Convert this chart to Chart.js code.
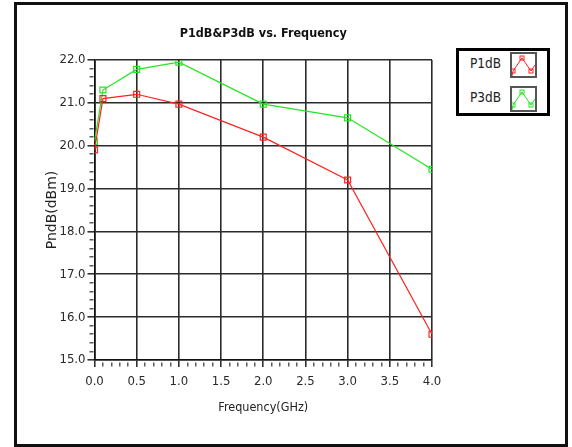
<!DOCTYPE html>
<html>
<head>
<meta charset="utf-8">
<script src="https://cdn.jsdelivr.net/npm/chart.js@4.4.1/dist/chart.umd.min.js"></script>
<style>
    html, body { margin: 0; padding: 0; background: #fff; }
    #frame {
        position: absolute; left: 14px; top: 2px; width: 554px; height: 445px;
        box-sizing: border-box; border: 3px solid #111;
    }
    #wrap { position: absolute; left: 0; top: 0; width: 572px; height: 447px; }
    #legend {
        position: absolute; left: 456px; top: 48px; width: 94px; height: 68px;
        box-sizing: border-box; border: 3px solid #000; background: #fff;
        font-family: 'DejaVu Sans Condensed', sans-serif;
        font-size: 13.5px; color: #222;
    }
    .lg-text { position: absolute; right: 46px; line-height: 16px; }
    .lg-icon {
        position: absolute; left: 51px; width: 27px; height: 26px;
        box-sizing: border-box; border: 2px solid #555; background: #fff;
    }
    .lg-icon svg { display: block; }
</style>
</head>
<body>
<div id="frame"></div>
<div id="wrap"><canvas id="chart" width="572" height="447"></canvas></div>
<div id="legend"></div>
<script>
// Measured points (frequency in GHz, power in dBm)
const frequencies = [0, 0.1, 0.5, 1.0, 2.0, 3.0, 4.0];
const p1dbValues = [19.9, 21.1, 21.2, 20.97, 20.2, 19.2, 15.6];
const p3dbValues = [20.1, 21.3, 21.78, 21.95, 20.97, 20.65, 19.45];

const seriesNames = ['P1dB', 'P3dB'];
const seriesColors = ['#ff2222', '#22e622'];

const xTicks = { min: 0, max: 4, major: 0.5, minor: 0.1 };
const yTicks = { min: 15, max: 22, major: 1, minor: 0.2 };

const narrowFamily = "'DejaVu Sans Condensed', sans-serif";
const tickFont = { family: narrowFamily, size: 13 };

function isMajor(value, step) {
    const r = value / step;
    return Math.abs(r - Math.round(r)) < 1e-6;
}

function toPoints(values) {
    return frequencies.map((f, i) => ({ x: f, y: values[i] }));
}

function axisGrid(step) {
    return {
        color: ctx => isMajor(ctx.tick.value, step) ? '#2b2b2b' : 'rgba(0,0,0,0)',
        lineWidth: 1.6,
        tickLength: 7,
        tickColor: '#333',
        tickWidth: ctx => isMajor(ctx.tick.value, step) ? 1.6 : 1.2,
        tickBorderDash: ctx => isMajor(ctx.tick.value, step) ? [] : [4, 10],
        tickBorderDashOffset: ctx => isMajor(ctx.tick.value, step) ? 0 : 12
    };
}

const datasets = [p1dbValues, p3dbValues].map((values, i) => ({
    label: seriesNames[i],
    data: toPoints(values),
    borderColor: seriesColors[i],
    backgroundColor: 'rgba(0,0,0,0)',
    borderWidth: 1.2,
    pointStyle: 'rect',
    pointRadius: 4.2,
    pointBorderWidth: 1.2,
    pointBorderColor: seriesColors[i],
    tension: 0
}));

new Chart(document.getElementById('chart'), {
    type: 'line',
    data: { datasets: datasets },
    options: {
        responsive: false,
        animation: false,
        layout: { padding: { left: 34.5, right: 140, top: 0, bottom: 27 } },
        plugins: {
            legend: { display: false },
            tooltip: { enabled: false },
            title: {
                display: true,
                fullSize: false,
                text: 'P1dB&P3dB vs. Frequency',
                color: '#111',
                font: { family: narrowFamily, size: 12.5, weight: 'bold', lineHeight: 1.2 },
                padding: { top: 26, bottom: 19 }
            }
        },
        scales: {
            x: {
                type: 'linear',
                min: xTicks.min,
                max: xTicks.max,
                afterFit: scale => { scale.height = 60; },
                border: { color: '#111', width: 1.6 },
                grid: axisGrid(xTicks.major),
                ticks: {
                    stepSize: xTicks.minor,
                    autoSkip: false,
                    maxRotation: 0,
                    padding: 7,
                    color: '#2a2a2a',
                    font: tickFont,
                    callback: v => isMajor(v, xTicks.major) ? v.toFixed(1) : ''
                },
                title: {
                    display: true,
                    text: 'Frequency(GHz)',
                    color: '#222',
                    font: { family: narrowFamily, size: 12.5, lineHeight: 1.2 },
                    padding: { top: 0, bottom: 4.5 }
                }
            },
            y: {
                type: 'linear',
                min: yTicks.min,
                max: yTicks.max,
                afterFit: scale => { scale.width = 60; },
                border: { color: '#111', width: 1.6 },
                grid: axisGrid(yTicks.major),
                ticks: {
                    stepSize: yTicks.minor,
                    autoSkip: false,
                    padding: 2,
                    color: '#2a2a2a',
                    font: tickFont,
                    callback: v => isMajor(v, yTicks.major) ? v.toFixed(1) : ''
                },
                title: {
                    display: true,
                    text: 'PndB(dBm)',
                    color: '#222',
                    font: { family: "'DejaVu Sans', sans-serif", size: 14, lineHeight: 1.2 },
                    padding: { top: 9, bottom: 0 }
                }
            }
        }
    }
});

// Legend box with small line previews, like the original instrument panel
const legendBox = document.getElementById('legend');
seriesNames.forEach((name, i) => {
    const top = i * 34;
    const text = document.createElement('div');
    text.className = 'lg-text';
    text.style.top = (top + 4) + 'px';
    text.textContent = name;
    legendBox.appendChild(text);

    const icon = document.createElement('div');
    icon.className = 'lg-icon';
    icon.style.top = (top + 1) + 'px';
    const c = seriesColors[i];
    icon.innerHTML =
        '<svg width="23" height="22" viewBox="0 0 23 22">' +
        '<polyline points="0,22 1,17 10,4 19,17 23,11" fill="none" stroke="' + c + '" stroke-width="1"/>' +
        '<rect x="-1" y="15" width="4" height="4" fill="none" stroke="' + c + '"/>' +
        '<rect x="8" y="2" width="4" height="4" fill="none" stroke="' + c + '"/>' +
        '<rect x="17" y="15" width="4" height="4" fill="none" stroke="' + c + '"/>' +
        '</svg>';
    legendBox.appendChild(icon);
});
</script>
</body>
</html>
